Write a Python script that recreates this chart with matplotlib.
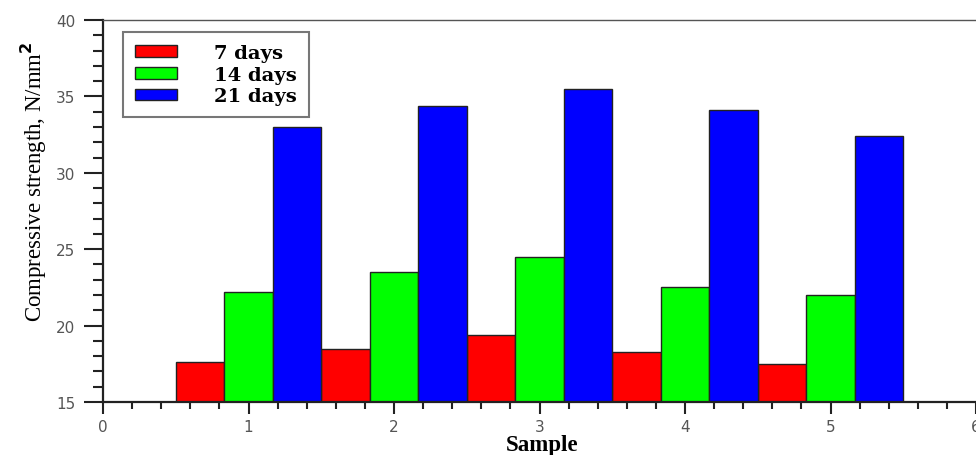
import matplotlib.pyplot as plt
from matplotlib.ticker import MultipleLocator
import numpy as np

# data
samples = [1, 2, 3, 4, 5]
days_7 = [17.6, 18.5, 19.4, 18.3, 17.5]
days_14 = [22.2, 23.5, 24.5, 22.5, 22.0]
days_21 = [33.0, 34.4, 35.5, 34.1, 32.4]
series_labels = ["7 days", "14 days", "21 days"]
series_colors = ["#ff0000", "#00ff00", "#0000ff"]

fig = plt.figure(figsize=(9.76, 4.56), dpi=100)
ax = fig.add_axes([103 / 976, 53 / 456, 873 / 976, 382 / 456])

x = np.array(samples, dtype=float)
width = 1 / 3
bottom = 15
for i, (vals, lab, col) in enumerate(zip([days_7, days_14, days_21], series_labels, series_colors)):
    vals = np.array(vals)
    ax.bar(x + (i - 1) * width, vals - bottom, width, bottom=bottom, color=col,
           edgecolor="#222222", linewidth=1.0, label=lab)

ax.set_xlim(0, 6)
ax.set_ylim(15, 40)
ax.xaxis.set_major_locator(MultipleLocator(1))
ax.xaxis.set_minor_locator(MultipleLocator(0.2))
ax.yaxis.set_major_locator(MultipleLocator(5))
ax.yaxis.set_minor_locator(MultipleLocator(1))

ax.tick_params(axis="y", which="major", direction="out", length=14, width=1.5, pad=6,
               labelsize=11, labelcolor="#555555", color="#222222")
ax.tick_params(axis="y", which="minor", direction="out", length=7, width=1.5, color="#222222")
ax.tick_params(axis="x", which="major", direction="out", length=8.5, width=1.5, pad=4,
               labelsize=11, labelcolor="#555555", color="#222222")
ax.tick_params(axis="x", which="minor", direction="out", length=5, width=1.5, color="#222222")

ax.spines["right"].set_visible(False)
ax.spines["left"].set_linewidth(1.6)
ax.spines["bottom"].set_linewidth(1.6)
ax.spines["left"].set_color("#222222")
ax.spines["bottom"].set_color("#222222")
ax.spines["top"].set_linewidth(1.0)
ax.spines["top"].set_color("#555555")

ax.set_ylabel("Compressive strength, N/mm$^\\mathbf{2}$", family="Liberation Serif",
              fontsize=16.5)
ax.yaxis.set_label_coords(-0.062, 0.58)
ax.set_xlabel("Sample", family="Liberation Serif", fontsize=16.5, fontweight="bold")
ax.xaxis.set_label_coords(0.503, -0.085)

leg = ax.legend(loc="upper left", bbox_to_anchor=(20 / 873, 370 / 382), borderaxespad=0,
                prop={"family": "DejaVu Serif", "weight": "bold", "size": 14},
                handlelength=2.2, handleheight=0.55, handletextpad=1.9,
                labelspacing=0.2, borderpad=0.6, fancybox=False, framealpha=1)
leg.get_frame().set_edgecolor("#777777")
leg.get_frame().set_linewidth(1.5)

fig.savefig("out.png", dpi=100)
